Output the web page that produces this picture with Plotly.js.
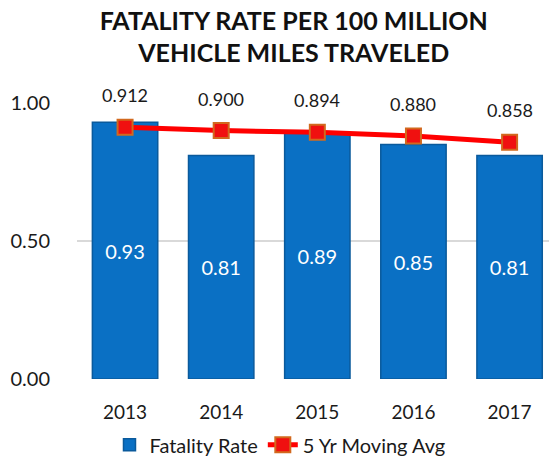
<!DOCTYPE html>
<html>
<head>
<meta charset="utf-8">
<script src="https://cdn.plot.ly/plotly-3.0.1.min.js"></script>
<style>html,body{margin:0;padding:0;background:#fff;}#chart{width:549px;height:461px;}</style>
</head>
<body>
<div id="chart"></div>
<script>
const years = ['2013', '2014', '2015', '2016', '2017'];
const fatalityRate = [0.93, 0.81, 0.89, 0.85, 0.81];
const movingAvg = [0.912, 0.900, 0.894, 0.880, 0.858];
const yTicks = [0, 0.5, 1.0];

const FONT = 'Lato, sans-serif';

const bars = {
  type: 'bar',
  name: 'Fatality Rate',
  x: years,
  y: fatalityRate,
  width: 0.68,
  marker: {color: '#0a70c4', line: {color: '#0a5a9c', width: 1.5}},
  text: fatalityRate.map(v => v.toFixed(2)),
  textposition: 'inside',
  insidetextanchor: 'middle',
  textfont: {color: '#ffffff', size: 20, family: FONT},
  hoverinfo: 'none'
};

const line = {
  type: 'scatter',
  mode: 'lines+markers',
  name: '5 Yr Moving Avg',
  x: years,
  y: movingAvg,
  line: {color: '#ff0000', width: 5},
  marker: {symbol: 'square', size: 15, color: '#f01010', line: {color: '#d2691e', width: 2}},
  hoverinfo: 'none'
};

const annotations = movingAvg.map((v, i) => ({
  x: i, y: v, xref: 'x', yref: 'y',
  text: v.toFixed(3), showarrow: false, yshift: 32,
  xanchor: 'center', yanchor: 'middle',
  font: {size: 18, color: '#1a1a1a', family: FONT}
}));

const layout = {
  width: 549, height: 461,
  margin: {l: 77, r: 0, t: 103, b: 82},
  paper_bgcolor: '#ffffff', plot_bgcolor: '#ffffff',
  font: {family: FONT, color: '#1a1a1a'},
  title: {
    text: '<b>FATALITY RATE PER 100 MILLION<br>VEHICLE MILES TRAVELED</b>',
    font: {size: 25, color: '#111111', family: FONT},
    x: 0.535, xanchor: 'center', xref: 'container',
    y: 0.935, yanchor: 'top', yref: 'container'
  },
  xaxis: {
    type: 'category',
    range: [-0.5, 4.41],
    showgrid: false, zeroline: false, showline: false,
    ticks: 'outside', ticklen: 16, tickcolor: 'rgba(0,0,0,0)',
    tickfont: {size: 19, color: '#1a1a1a', family: FONT}
  },
  yaxis: {
    range: [0, 1.0],
    tickvals: yTicks,
    ticktext: yTicks.map(v => v.toFixed(2)),
    showgrid: true, gridcolor: '#d9d9d9', gridwidth: 1.5,
    zeroline: false, showline: false,
    ticks: 'outside', ticklen: 22, tickcolor: 'rgba(0,0,0,0)',
    tickfont: {size: 20, color: '#1a1a1a', family: FONT}
  },
  showlegend: true,
  legend: {
    orientation: 'h', xref: 'container', yref: 'container',
    x: 0.51, xanchor: 'center', y: 0.035, yanchor: 'middle',
    font: {size: 20, color: '#1a1a1a', family: FONT},
    traceorder: 'normal'
  },
  annotations: annotations
};

Plotly.newPlot('chart', [bars, line], layout, {displayModeBar: false, staticPlot: true});
</script>
</body>
</html>
